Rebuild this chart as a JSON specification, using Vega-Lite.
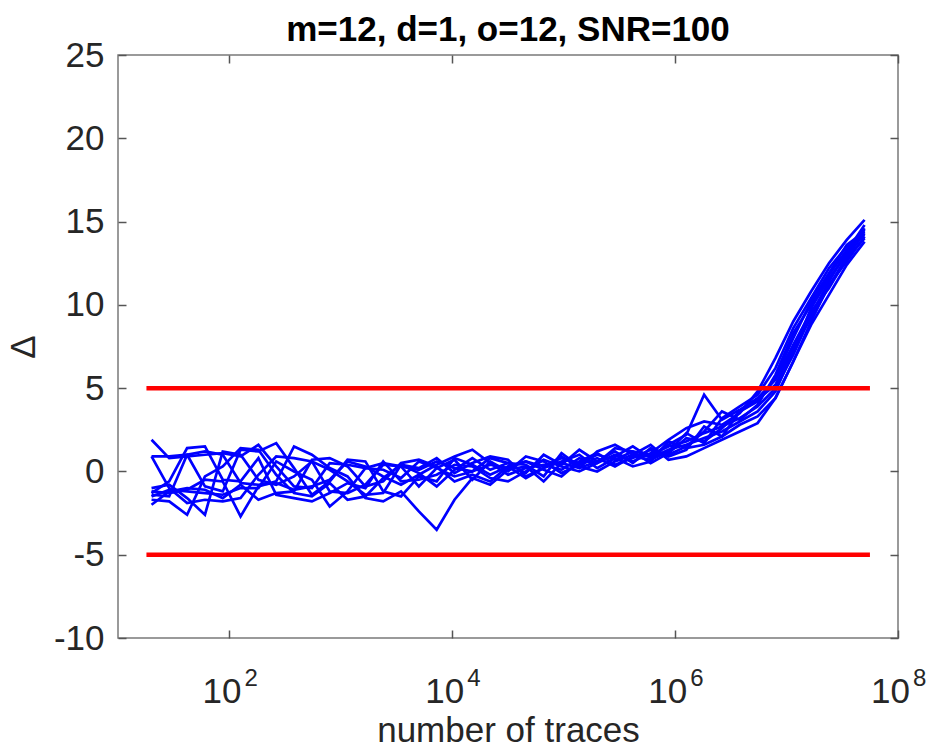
{
  "$schema": "https://vega.github.io/schema/vega-lite/v6.json",
  "width": 780,
  "height": 583,
  "autosize": {"type": "none"},
  "padding": {"left": 118, "top": 55, "right": 30, "bottom": 110},
  "background": "white",
  "config": {
    "view": {"stroke": "#7a7a7a", "strokeWidth": 1.5},
    "font": "Liberation Sans",
    "axis": {
      "grid": false,
      "domain": false,
      "tickColor": "#555555",
      "tickSize": -8,
      "tickWidth": 1.5,
      "labelFlush": false,
      "labelOverlap": false,
      "labelFont": "Liberation Sans",
      "labelFontSize": 35,
      "labelColor": "#262626",
      "titleFont": "Liberation Sans",
      "titleFontSize": 35,
      "titleFontWeight": "normal",
      "titleColor": "#262626"
    }
  },
  "title": {
    "text": "m=12, d=1, o=12, SNR=100",
    "font": "Liberation Sans",
    "fontSize": 35,
    "fontWeight": "bold",
    "color": "#000000",
    "anchor": "middle",
    "offset": -10
  },
  "datasets": {
    "traces": [
      {"n": 20, "a": 1.9, "b": 0.9, "c": -1.0, "d": -1.2, "e": -1.4, "f": -1.5, "g": -1.7, "h": -2.0, "i": -1.3, "j": 0.9},
      {"n": 28.8, "a": 0.8, "b": 0.9, "c": -0.8, "d": -1.3, "e": -1.5, "f": -1.1, "g": -1.8, "h": -1.2, "i": -0.6, "j": -1.0},
      {"n": 41.7, "a": 0.9, "b": 1.0, "c": -1.6, "d": -1.1, "e": 1.0, "f": -1.2, "g": -2.6, "h": -1.0, "i": 1.4, "j": -1.9},
      {"n": 60.3, "a": 1.0, "b": -0.9, "c": -2.6, "d": -0.5, "e": 1.2, "f": -1.3, "g": -0.3, "h": -1.1, "i": 1.5, "j": -1.7},
      {"n": 87.1, "a": 1.1, "b": -1.2, "c": 1.2, "d": -0.6, "e": 1.0, "f": -1.4, "g": 0.3, "h": -1.6, "i": -0.5, "j": -1.8},
      {"n": 125.9, "a": 0.9, "b": 1.3, "c": 1.0, "d": -2.7, "e": -0.7, "f": -1.0, "g": 1.4, "h": -0.8, "i": -0.6, "j": -1.6},
      {"n": 182, "a": 1.6, "b": 1.2, "c": -0.5, "d": -0.9, "e": -0.8, "f": -1.0, "g": 1.3, "h": -1.7, "i": 0.8, "j": -0.2},
      {"n": 263, "a": 0.3, "b": 1.7, "c": -0.8, "d": -0.6, "e": -0.7, "f": 0.6, "g": -0.2, "h": -1.3, "i": -1.4, "j": 0.9},
      {"n": 380, "a": -0.9, "b": 0.2, "c": -0.3, "d": 1.5, "e": -1.1, "f": 0.0, "g": -1.3, "h": -1.2, "i": -1.6, "j": 0.8},
      {"n": 550, "a": -1.0, "b": -1.4, "c": 0.6, "d": 1.0, "e": -0.9, "f": -0.5, "g": -1.5, "h": 0.7, "i": -1.8, "j": 0.6},
      {"n": 794, "a": 0.5, "b": -0.6, "c": -1.2, "d": 0.2, "e": -0.5, "f": -2.1, "g": -0.7, "h": 0.8, "i": -1.3, "j": 0.1},
      {"n": 1148, "a": 0.4, "b": 0.7, "c": -1.3, "d": -0.3, "e": 0.6, "f": -1.2, "g": -1.7, "h": 0.3, "i": -0.7, "j": -0.6},
      {"n": 1660, "a": 0.2, "b": 0.6, "c": -0.8, "d": -1.6, "e": 0.3, "f": 0.2, "g": -1.5, "h": -0.9, "i": -1.0, "j": -1.4},
      {"n": 2399, "a": 0.5, "b": -1.2, "c": 0.4, "d": -1.8, "e": -0.3, "f": 0.1, "g": -0.4, "h": -0.6, "i": 0.6, "j": -1.3},
      {"n": 3467, "a": 0.3, "b": -1.5, "c": 0.3, "d": -1.2, "e": -0.8, "f": -0.4, "g": 0.4, "h": 0.5, "i": -0.6, "j": 0.4},
      {"n": 5012, "a": 0.1, "b": -0.3, "c": -0.9, "d": -2.4, "e": -0.2, "f": 0.6, "g": -0.1, "h": 0.7, "i": -0.5, "j": 0.2},
      {"n": 7244, "a": 0.6, "b": -0.6, "c": 0.2, "d": -3.5, "e": 0.4, "f": 0.2, "g": -0.9, "h": 0.3, "i": -0.2, "j": 0.8},
      {"n": 10471, "a": 0.2, "b": 0.8, "c": 0.7, "d": -1.7, "e": 0.9, "f": -0.3, "g": 0.1, "h": -0.6, "i": 0.4, "j": -0.1},
      {"n": 15136, "a": 0.0, "b": 0.4, "c": -0.5, "d": -0.4, "e": 1.3, "f": 0.0, "g": 0.8, "h": -0.2, "i": 0.3, "j": 0.5},
      {"n": 21878, "a": 0.4, "b": -0.2, "c": 0.6, "d": -0.8, "e": 0.5, "f": 0.8, "g": 0.1, "h": -0.6, "i": -0.4, "j": 0.9},
      {"n": 31623, "a": 0.2, "b": 0.3, "c": 0.0, "d": 0.1, "e": -0.2, "f": 0.5, "g": 0.5, "h": 0.3, "i": -0.6, "j": 0.7},
      {"n": 45709, "a": 0.6, "b": -0.4, "c": 0.9, "d": 0.3, "e": 0.2, "f": -0.1, "g": 0.4, "h": 0.6, "i": 0.0, "j": -0.3},
      {"n": 66069, "a": 0.3, "b": 0.2, "c": 0.6, "d": -0.6, "e": 0.4, "f": 1.0, "g": -0.3, "h": 0.1, "i": 0.7, "j": 0.2},
      {"n": 95499, "a": 0.8, "b": 0.9, "c": -0.1, "d": 0.5, "e": 0.1, "f": 0.4, "g": 1.1, "h": -0.3, "i": 0.3, "j": 0.6},
      {"n": 138038, "a": 0.5, "b": 0.2, "c": 0.4, "d": 0.2, "e": 0.8, "f": 1.3, "g": 0.3, "h": 0.6, "i": 0.0, "j": 1.0},
      {"n": 199526, "a": 1.0, "b": 0.6, "c": 0.8, "d": 1.2, "e": 0.5, "f": 0.6, "g": 0.0, "h": 1.1, "i": 0.5, "j": 0.2},
      {"n": 288403, "a": 0.7, "b": 1.2, "c": 0.3, "d": 1.6, "e": 1.0, "f": 0.9, "g": 0.6, "h": 0.4, "i": 1.4, "j": 0.8},
      {"n": 416869, "a": 1.2, "b": 0.5, "c": 0.9, "d": 1.0, "e": 0.6, "f": 1.5, "g": 1.0, "h": 0.8, "i": 1.2, "j": 0.3},
      {"n": 602560, "a": 1.0, "b": 1.4, "c": 0.7, "d": 0.9, "e": 1.1, "f": 0.8, "g": 1.6, "h": 1.3, "i": 0.5, "j": 0.6},
      {"n": 870964, "a": 1.5, "b": 0.9, "c": 1.2, "d": 1.6, "e": 1.9, "f": 1.3, "g": 0.7, "h": 1.0, "i": 1.1, "j": 1.8},
      {"n": 1258925, "a": 1.8, "b": 1.3, "c": 2.3, "d": 2.2, "e": 2.6, "f": 1.6, "g": 0.9, "h": 1.5, "i": 2.0, "j": 1.4},
      {"n": 1819701, "a": 2.3, "b": 2.7, "c": 1.7, "d": 4.6, "e": 3.0, "f": 2.0, "g": 1.4, "h": 2.4, "i": 1.8, "j": 1.6},
      {"n": 2630268, "a": 2.7, "b": 2.1, "c": 3.2, "d": 3.1, "e": 2.8, "f": 2.4, "g": 1.9, "h": 3.6, "i": 2.6, "j": 2.1},
      {"n": 3801894, "a": 3.2, "b": 3.6, "c": 3.9, "d": 3.7, "e": 3.5, "f": 3.0, "g": 2.4, "h": 3.1, "i": 3.6, "j": 2.8},
      {"n": 5495409, "a": 3.9, "b": 4.2, "c": 4.6, "d": 4.4, "e": 4.8, "f": 3.6, "g": 2.9, "h": 4.0, "i": 4.3, "j": 3.3},
      {"n": 7943282, "a": 5.0, "b": 5.6, "c": 6.2, "d": 5.5, "e": 6.8, "f": 4.8, "g": 4.4, "h": 5.8, "i": 5.2, "j": 4.4},
      {"n": 11481536, "a": 7.0, "b": 8.0, "c": 8.6, "d": 7.6, "e": 9.0, "f": 7.2, "g": 6.6, "h": 8.3, "i": 7.4, "j": 6.6},
      {"n": 16595869, "a": 9.4, "b": 10.2, "c": 10.4, "d": 9.6, "e": 10.8, "f": 9.8, "g": 9.0, "h": 10.0, "i": 9.2, "j": 8.8},
      {"n": 23988329, "a": 11.4, "b": 11.9, "c": 12.2, "d": 11.0, "e": 12.5, "f": 11.6, "g": 11.2, "h": 11.8, "i": 11.1, "j": 10.6},
      {"n": 34673685, "a": 13.2, "b": 13.6, "c": 13.5, "d": 12.8, "e": 13.9, "f": 13.0, "g": 12.6, "h": 13.3, "i": 12.9, "j": 12.4},
      {"n": 50118723, "a": 14.8, "b": 14.4, "c": 14.2, "d": 14.0, "e": 15.1, "f": 14.6, "g": 14.1, "h": 14.5, "i": 14.3, "j": 13.8}
    ],
    "limits": [
      {"level": 5, "from": 18, "to": 56000000},
      {"level": -5, "from": 18, "to": 56000000}
    ],
    "exponents": [
      {"n": 100, "e": "2"},
      {"n": 10000, "e": "4"},
      {"n": 1000000, "e": "6"},
      {"n": 100000000, "e": "8"}
    ]
  },
  "layer": [
    {
      "data": {"name": "traces"},
      "transform": [{"fold": ["a", "b", "c", "d", "e", "f", "g", "h", "i", "j"], "as": ["run", "delta"]}],
      "mark": {"type": "line", "color": "#0000ff", "strokeWidth": 2.7, "clip": true},
      "encoding": {
        "x": {
          "field": "n", "type": "quantitative",
          "scale": {"type": "log", "domain": [10, 100000000], "nice": false},
          "axis": {
            "orient": "bottom",
            "values": [100, 10000, 1000000, 100000000],
            "labelExpr": "'10'",
            "labelOffset": -8,
            "labelPadding": 44,
            "title": "number of traces",
            "titlePadding": 4
          }
        },
        "y": {
          "field": "delta", "type": "quantitative",
          "scale": {"domain": [-10, 25], "nice": false, "zero": false},
          "axis": {
            "orient": "left",
            "values": [-10, -5, 0, 5, 10, 15, 20, 25],
            "labelExpr": "replace(datum.label, '−', '-')",
            "labelPadding": 22,
            "title": "Δ",
            "titlePadding": 12
          }
        },
        "detail": {"field": "run"}
      }
    },
    {
      "data": {"name": "limits"},
      "mark": {"type": "rule", "color": "#ff0000", "strokeWidth": 4.5},
      "encoding": {
        "x": {
          "field": "from", "type": "quantitative",
          "axis": {"orient": "top", "values": [100, 10000, 1000000, 100000000], "labels": false, "title": null}
        },
        "x2": {"field": "to"},
        "y": {
          "field": "level", "type": "quantitative",
          "axis": {"orient": "right", "values": [-10, -5, 0, 5, 10, 15, 20, 25], "labels": false, "title": null}
        }
      }
    },
    {
      "data": {"name": "exponents"},
      "mark": {"type": "text", "align": "left", "baseline": "alphabetic", "font": "Liberation Sans", "fontSize": 24, "color": "#262626", "dx": 15, "dy": 48},
      "encoding": {
        "x": {"field": "n", "type": "quantitative", "axis": null},
        "y": {"datum": -10, "type": "quantitative", "axis": null},
        "text": {"field": "e"}
      }
    }
  ],
  "resolve": {"axis": {"x": "independent", "y": "independent"}}
}
